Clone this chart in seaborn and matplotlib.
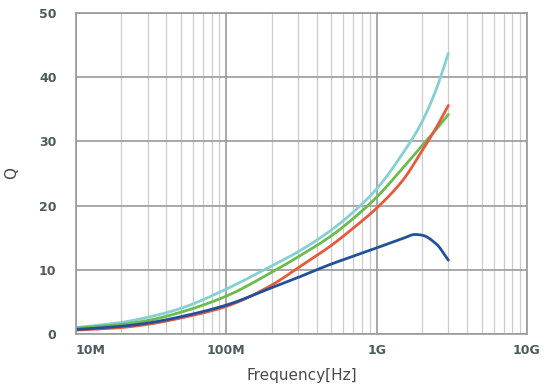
import numpy as np
import pandas as pd
import matplotlib
matplotlib.use("Agg")
import matplotlib.pyplot as plt
import seaborn as sns
from matplotlib.ticker import FixedLocator, NullFormatter

freq = [1e7, 2e7, 3e7, 5e7, 1e8, 2e8, 3e8, 5e8, 7e8, 1e9, 1.5e9, 2e9, 2.5e9, 3e9]
q_cyan = [1.0, 1.8, 2.6, 4.0, 7.0, 10.6, 12.8, 16.2, 19.0, 22.6, 28.2, 33.0, 38.2, 43.7]
q_green = [0.9, 1.5, 2.1, 3.4, 5.9, 9.6, 12.0, 15.3, 18.0, 21.3, 25.9, 29.3, 31.9, 34.2]
q_red = [0.6, 1.0, 1.5, 2.5, 4.3, 7.6, 10.3, 13.8, 16.5, 19.6, 24.0, 28.5, 32.2, 35.6]
freq_blue = [1e7, 2e7, 3e7, 5e7, 1e8, 2e8, 3e8, 5e8, 7e8, 1e9, 1.5e9, 1.8e9, 2e9, 2.5e9, 3e9]
q_blue = [0.7, 1.2, 1.7, 2.7, 4.5, 7.2, 8.8, 10.9, 12.1, 13.4, 14.9, 15.5, 15.4, 14.0, 11.5]

series = ["cyan", "green", "red", "blue"]
colors = {"cyan": "#86d0d2", "green": "#6cbb4c", "red": "#e55a3c", "blue": "#22519c"}

x_ticks = [1e7, 1e8, 1e9, 1e10]
x_labels = ["10M", "100M", "1G", "10G"]
y_ticks = [0, 10, 20, 30, 40, 50]


def pchip(x, y, xn):
    x = np.asarray(x, float)
    y = np.asarray(y, float)
    h = np.diff(x)
    d = np.diff(y) / h
    m = np.zeros_like(y)
    for k in range(1, len(y) - 1):
        if d[k - 1] * d[k] <= 0:
            m[k] = 0.0
        else:
            w1 = 2 * h[k] + h[k - 1]
            w2 = h[k] + 2 * h[k - 1]
            m[k] = (w1 + w2) / (w1 / d[k - 1] + w2 / d[k])
    m[0] = d[0]
    m[-1] = d[-1]
    idx = np.clip(np.searchsorted(x, xn) - 1, 0, len(h) - 1)
    t = (xn - x[idx]) / h[idx]
    h00 = 2 * t**3 - 3 * t**2 + 1
    h10 = t**3 - 2 * t**2 + t
    h01 = -2 * t**3 + 3 * t**2
    h11 = t**3 - t**2
    return h00 * y[idx] + h10 * h[idx] * m[idx] + h01 * y[idx + 1] + h11 * h[idx] * m[idx + 1]


frames = []
for name, f, q in [("cyan", freq, q_cyan), ("green", freq, q_green),
                   ("red", freq, q_red), ("blue", freq_blue, q_blue)]:
    lf = np.log10(f)
    fine = np.linspace(lf[0], lf[-1], 300)
    qq = pchip(lf, q, fine)
    frames.append(pd.DataFrame({"freq": 10 ** fine, "Q": qq, "series": name}))
df = pd.concat(frames, ignore_index=True)

sns.set_style("white")
fig = plt.figure(figsize=(5.57, 3.92), dpi=100)
ax = fig.add_axes([0.1364, 0.148, 0.946 - 0.1364, 0.9668 - 0.148])

sns.lineplot(data=df, x="freq", y="Q", hue="series", hue_order=series,
             palette=colors, linewidth=2.0, legend=False, ax=ax, sort=False)

ax.set_xscale("log")
ax.set_xlim(1e7, 1e10)
ax.set_ylim(0, 50)

minor = [m * 10 ** e for e in range(7, 10) for m in range(2, 10)]
ax.xaxis.set_minor_locator(FixedLocator(minor))
ax.xaxis.set_minor_formatter(NullFormatter())
ax.set_xticks(x_ticks)
ax.set_xticklabels(x_labels)
ax.set_yticks(y_ticks)

ax.grid(True, which="major", axis="both", color="#9a9a9a", linewidth=1.2)
ax.grid(True, which="minor", axis="x", color="#cccccc", linewidth=0.9)
ax.set_axisbelow(True)
for s in ax.spines.values():
    s.set_color("#9a9a9a")
    s.set_linewidth(1.2)

lab_color = "#4c5c5c"
ax.tick_params(axis="y", which="both", length=0, pad=14,
               labelsize=9, labelcolor=lab_color)
ax.tick_params(axis="x", which="both", length=0, pad=7,
               labelsize=9, labelcolor=lab_color)
for t in ax.get_xticklabels() + ax.get_yticklabels():
    t.set_fontweight("bold")
xl = ax.get_xticklabels()
xl[0].set_horizontalalignment("left")

ax.set_xlabel("Frequency[Hz]", fontsize=11, color="#4a4a4a", labelpad=8)
ax.set_ylabel("Q", fontsize=11, color="#4a4a4a", labelpad=14)

fig.savefig("out.png", dpi=100)
